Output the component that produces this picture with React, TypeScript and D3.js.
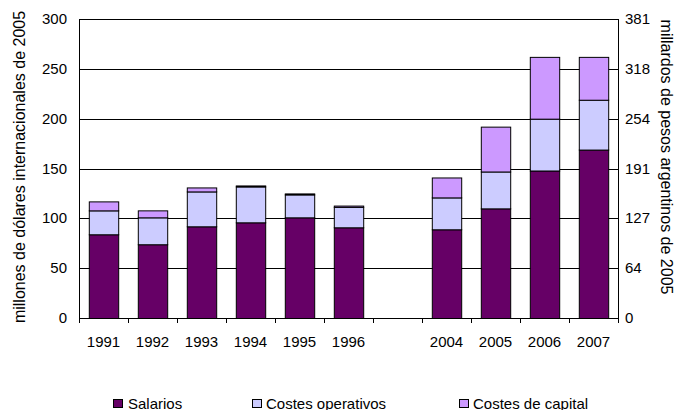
import React from "react";
import * as d3 from "d3";

// Categories (blank slot separates the two periods)
const years = ["1991", "1992", "1993", "1994", "1995", "1996", "", "2004", "2005", "2006", "2007"];
// Series values, millions of 2005 international dollars
const salarios = [84, 74, 92, 96, 101, 91, null, 89, 110, 148, 169];
const costesOperativos = [24, 27, 35, 36, 23, 20.5, null, 32, 37, 52, 50];
const costesCapital = [9, 7, 4, 1, 1, 1.3, null, 20, 45, 62, 43];

const seriesNames = ["Salarios", "Costes operativos", "Costes de capital"];
const seriesColors = ["#660066", "#CCCCFF", "#CC99FF"];

const leftTicks = [0, 50, 100, 150, 200, 250, 300];
const rightTickLabels = ["0", "64", "127", "191", "254", "318", "381"];

const W = 675;
const H = 410;
const plot = { left: 79, right: 618, top: 19, bottom: 318 };
const FONT = "'Liberation Sans', Arial, sans-serif";
const FS = 15;
const TITLE_FS = 16;

export default function App() {
  const slots = years.map((y, i) => (y === "" ? `gap-${i}` : y));
  const x = d3
    .scaleBand<string>()
    .domain(slots)
    .range([plot.left, plot.right])
    .paddingInner(0.4)
    .paddingOuter(0.2);
  const y = d3.scaleLinear().domain([0, 300]).range([plot.bottom, plot.top]);

  const rows = years.map((yr, i) => ({
    key: slots[i],
    Salarios: salarios[i],
    "Costes operativos": costesOperativos[i],
    "Costes de capital": costesCapital[i],
  }));
  const present = rows.filter((r) => r.Salarios != null);
  const stack = d3.stack<any>().keys(seriesNames)(present);

  const step = x.step();
  const boundaries = slots.map((_, i) => plot.left + i * step).concat([plot.right]);

  const legendItems = [
    { sx: 113, tx: 128 },
    { sx: 252, tx: 266 },
    { sx: 459, tx: 473 },
  ];

  return (
    <svg
      width={W}
      height={H}
      style={{ position: "absolute", left: 0, top: 0, background: "#fff" }}
      fontFamily={FONT}
    >
      {/* gridlines */}
      {leftTicks.map((t) => (
        <line
          key={`g${t}`}
          x1={plot.left}
          x2={plot.right}
          y1={Math.round(y(t)) + 0.5}
          y2={Math.round(y(t)) + 0.5}
          stroke="#000"
          strokeWidth={1}
        />
      ))}

      {/* stacked bars */}
      {stack.map((layer, si) =>
        layer.map((d: any) => {
          const top = y(d[1]);
          const bottom = y(d[0]);
          return (
            <rect
              key={`${si}-${d.data.key}`}
              x={(x(d.data.key) as number) + 0.5}
              y={top + 0.5}
              width={x.bandwidth()}
              height={Math.max(0, bottom - top)}
              fill={seriesColors[si]}
              stroke="#000"
              strokeWidth={1}
            />
          );
        })
      )}

      {/* axes */}
      <line x1={plot.left + 0.5} x2={plot.left + 0.5} y1={plot.top} y2={plot.bottom + 0.5} stroke="#000" />
      <line x1={plot.right + 0.5} x2={plot.right + 0.5} y1={plot.top} y2={plot.bottom + 0.5} stroke="#000" />
      <line x1={plot.left} x2={plot.right + 1} y1={plot.bottom + 0.5} y2={plot.bottom + 0.5} stroke="#000" />
      {boundaries.map((bx, i) => (
        <line
          key={`t${i}`}
          x1={Math.round(bx) + 0.5}
          x2={Math.round(bx) + 0.5}
          y1={plot.bottom}
          y2={plot.bottom + 5}
          stroke="#000"
        />
      ))}

      {/* left tick labels */}
      {leftTicks.map((t) => (
        <text key={`l${t}`} x={67} y={y(t) + 5} textAnchor="end" fontSize={FS} fill="#000">
          {t}
        </text>
      ))}
      {/* right tick labels */}
      {leftTicks.map((t, i) => (
        <text key={`r${t}`} x={625} y={y(t) + 5} textAnchor="start" fontSize={FS} fill="#000">
          {rightTickLabels[i]}
        </text>
      ))}

      {/* category labels */}
      {years.map((yr, i) =>
        yr === "" ? null : (
          <text
            key={`c${yr}`}
            x={(x(slots[i]) as number) + x.bandwidth() / 2}
            y={347}
            textAnchor="middle"
            fontSize={FS}
            fill="#000"
          >
            {yr}
          </text>
        )
      )}

      {/* axis titles */}
      <text
        transform="translate(25,167) rotate(-90)"
        textAnchor="middle"
        fontSize={TITLE_FS}
        fill="#000"
      >
        millones de dólares internacionales de 2005
      </text>
      <text
        transform="translate(661,157) rotate(90)"
        textAnchor="middle"
        fontSize={TITLE_FS}
        fill="#000"
      >
        millardos de pesos argentinos de 2005
      </text>

      {/* legend */}
      {legendItems.map((it, i) => (
        <g key={`leg${i}`}>
          <rect x={it.sx + 0.5} y={399.5} width={9} height={8} fill={seriesColors[i]} stroke="#000" />
          <text x={it.tx} y={409} fontSize={FS} fill="#000">
            {seriesNames[i]}
          </text>
        </g>
      ))}
    </svg>
  );
}
